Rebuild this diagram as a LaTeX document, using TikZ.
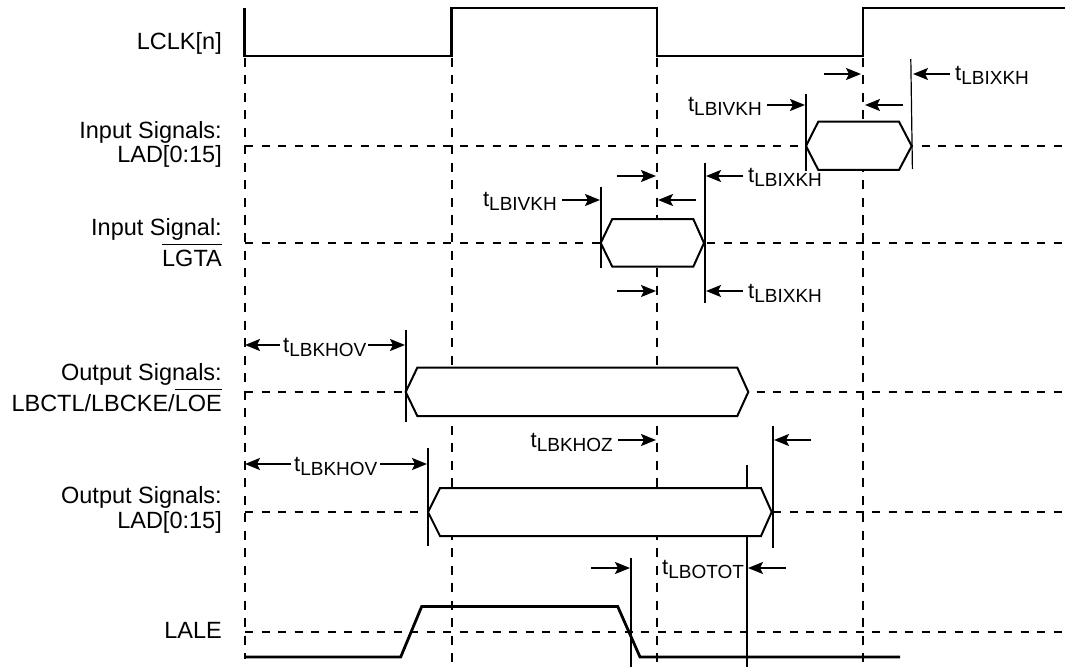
\documentclass[tikz,border=0pt]{standalone}
\usepackage{fontspec}
\setmainfont{Liberation Sans}
\usetikzlibrary{arrows.meta}
\newcommand{\ovl}[1]{\setbox0\hbox{#1}\rlap{\rule[\dimexpr\ht0+5pt\relax]{\wd0}{1.6pt}}\box0}
\newcommand{\tl}[1]{{\fontsize{22}{22}\selectfont t}\raisebox{-4pt}{\fontsize{19}{19}\selectfont #1}}
\begin{document}
\begin{tikzpicture}[x=1pt,y=-1pt,
  clk/.style={line width=2.7pt,line join=miter},
  sig/.style={line width=2.8pt,line join=miter},
  hex/.style={line width=2pt,fill=white,line join=miter},
  vdash/.style={line width=2pt,dash pattern=on 9pt off 8.5pt},
  hdash/.style={line width=1.8pt,dash pattern=on 8pt off 8.5pt},
  edgeln/.style={line width=2pt},
  thinedge/.style={line width=1.2pt},
  arr/.style={line width=2pt,-{Stealth[length=15pt,width=12pt,inset=3pt]}},
  lbl/.style={font=\fontsize{23.5}{25}\selectfont,inner sep=0pt,anchor=base east},
  tlw/.style={inner sep=0pt,anchor=base west},
  tle/.style={inner sep=0pt,anchor=base east}]
\useasboundingbox (0,0) rectangle (1065,671);

% vertical dashed clock-edge lines
\draw[vdash] (244.5,58) -- (244.5,659);
\draw[vdash] (451.5,58) -- (451.5,667);
\draw[vdash] (657,58) -- (657,667);
\draw[vdash] (863,58) -- (863,667);

% horizontal dashed reference lines
\draw[hdash] (245,146) -- (1062,146);
\draw[hdash] (245,243) -- (1062,243);
\draw[hdash] (245,392) -- (1062,392);
\draw[hdash] (245,512) -- (1062,512);
\draw[hdash] (245,632) -- (1062,632);

% edge markers
\draw[edgeln] (806,94) -- (806,171);
\draw[thinedge] (910.8,59) -- (912.4,169);
\draw[edgeln] (600.7,187) -- (600.7,268);
\draw[edgeln] (705,163) -- (705,303);
\draw[edgeln] (405.7,330) -- (405.7,421.7);
\draw[edgeln] (428,448) -- (428,546);
\draw[edgeln] (772.7,426) -- (772.7,548);
\draw[edgeln] (747,465) -- (747,667);
\draw[edgeln] (630.7,558) -- (630.7,667);

% data hexagons
\draw[hex] (806,146) -- (818.3,121.7) -- (899,121.7) -- (911.7,146) -- (899,170) -- (818.3,170) -- cycle;
\draw[hex] (600.7,243) -- (612.3,219) -- (693.3,219) -- (704,243) -- (693.3,266.7) -- (612.3,266.7) -- cycle;
\draw[hex] (405.7,392) -- (417.3,367.7) -- (737.3,367.7) -- (748.3,392) -- (737.3,416) -- (417.3,416) -- cycle;
\draw[hex] (428,512) -- (440,488) -- (761,488) -- (771.7,512) -- (761,536) -- (440,536) -- cycle;

% clock
\draw[clk] (244.5,8) -- (244.5,56) -- (451.5,56) -- (451.5,8) -- (657,8) -- (657,56) -- (863,56) -- (863,8) -- (1065,8);
% LALE
\draw[sig] (245,657) -- (400.7,657) -- (421.7,606.5) -- (617.7,606.5) -- (640,657) -- (900,657);

% arrows: input LAD
\draw[arr] (824,74) -- (861,74);
\draw[arr] (950,74) -- (913,74);
\draw[arr] (767,105) -- (805,105);
\draw[arr] (903,105) -- (865,105);
% arrows: LGTA
\draw[arr] (617,176) -- (656,176);
\draw[arr] (743,176) -- (706,176);
\draw[arr] (562,200) -- (600,200);
\draw[arr] (696,200) -- (658,200);
\draw[arr] (617,291) -- (656,291);
\draw[arr] (743,291) -- (706,291);
% arrows: outputs
\draw[arr] (280,345) -- (245,345);
\draw[arr] (368,345) -- (405,345);
\draw[arr] (291,464) -- (245,464);
\draw[arr] (380,464) -- (427,464);
\draw[arr] (618,440) -- (656,440);
\draw[arr] (811,440) -- (774,440);
% arrows: LALE
\draw[arr] (591,568) -- (630,568);
\draw[arr] (786,568) -- (748,568);

% signal names
\node[lbl] (nclk) at (222,50) {LCLK[n]};
\node[lbl] (nin1a) at (222,139) {Input Signals:};
\node[lbl] (nin1b) at (222,163) {LAD[0:15]};
\node[lbl] (nin2a) at (222,235) {Input Signal:};
\node[lbl] (nin2b) at (222,266.7) {\ovl{LGTA}};
\node[lbl] (nout1a) at (222,380) {Output Signals:};
\node[lbl] (nout1b) at (222,411.7) {LBCTL/LBCKE/\ovl{LOE}};
\node[lbl] (nout2a) at (222,503.3) {Output Signals:};
\node[lbl] (nout2b) at (222,528) {LAD[0:15]};
\node[lbl] (nlale) at (222,638) {LALE};

% timing labels
\node[tlw] (t1) at (955,81) {\tl{LBIXKH}};
\node[tle] (t2) at (762,112) {\tl{LBIVKH}};
\node[tlw] (t3) at (748,183) {\tl{LBIXKH}};
\node[tle] (t4) at (557,207) {\tl{LBIVKH}};
\node[tlw] (t5) at (748,298) {\tl{LBIXKH}};
\node[tlw] (t6) at (283,352) {\tl{LBKHOV}};
\node[tlw] (t7) at (294,471) {\tl{LBKHOV}};
\node[tle] (t8) at (613,447) {\tl{LBKHOZ}};
\node[tlw] (t9) at (662,574) {\tl{LBOTOT}};
\end{tikzpicture}
\end{document}
